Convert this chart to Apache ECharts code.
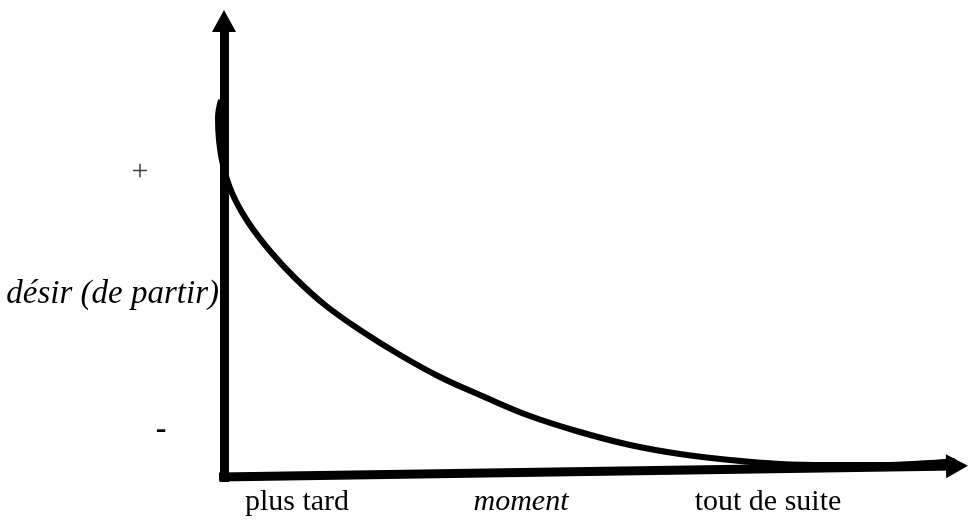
<!DOCTYPE html>
<html>
<head>
<meta charset="utf-8">
<title>désir (de partir)</title>
<script src="https://cdn.jsdelivr.net/npm/echarts@6/dist/echarts.min.js"></script>
<style>
  html, body, #main { width: 970px; height: 521px; margin: 0; overflow: hidden; background: #fff; }
</style>
</head>
<body>
<div id="main"></div>
<script>
// courbe du désir, repère en pixels de la figure (y vers le bas)
var curveX = [221, 218, 219, 223, 232, 248, 270, 295, 325, 360, 400, 440, 480, 530, 580, 630, 680, 730, 780, 830, 880, 930, 955];
var curveY = [100, 118, 140, 165, 193, 222, 251, 278, 305, 330, 355, 377, 395, 416, 432, 445, 454, 460, 464, 465, 465, 463, 461];
// axes (début, fin sous la pointe de la flèche)
var axeY = [[224, 482], [224, 21]];
var axeX = [[219, 477], [957, 466]];
var tickLabels = ['plus tard', 'moment', 'tout de suite'];
var yLabels = ['+', 'désir (de partir)', '-'];

var chart = echarts.init(document.getElementById('main'), null, { renderer: 'canvas' });
var serif = 'Liberation Serif';

function label(txt, x, y, size, italic, color, align, weight) {
  return {
    type: 'text', x: x, y: y, z: 10,
    style: {
      text: txt, fontSize: size, fontFamily: serif,
      fontStyle: italic ? 'italic' : 'normal', fontWeight: weight || 'normal',
      fill: color || '#000', align: align || 'left', verticalAlign: 'middle'
    }
  };
}

var option = {
  animation: false,
  grid: { left: 0, right: 0, top: 0, bottom: 0 },
  xAxis: { type: 'value', min: 0, max: 970, show: false },
  yAxis: { type: 'value', min: 0, max: 521, inverse: true, show: false },
  series: [
    {
      type: 'line',
      smooth: 0.4,
      symbol: 'none',
      silent: true,
      lineStyle: { color: '#000', width: 6 },
      data: curveX.map(function (x, i) { return [x, curveY[i]]; }),
      markLine: {
        silent: true,
        symbol: ['none', 'triangle'],
        symbolSize: [24, 22],
        label: { show: false },
        lineStyle: { color: '#000', width: 9, type: 'solid' },
        itemStyle: { color: '#000' },
        data: [
          [{ coord: axeY[0] }, { coord: axeY[1] }],
          [{ coord: axeX[0] }, { coord: axeX[1] }]
        ]
      }
    }
  ],
  graphic: [
    label(yLabels[0], 140, 172, 30, false, '#404040', 'center'),
    label(yLabels[1], 219, 294, 33, true, '#000', 'right'),
    label(yLabels[2], 161, 430, 32, false, '#000', 'center', 'bold'),
    label(tickLabels[0], 297, 502, 30, false, '#000', 'center'),
    label(tickLabels[1], 521, 502, 30, true, '#000', 'center'),
    label(tickLabels[2], 768, 502, 30, false, '#000', 'center')
  ]
};
chart.setOption(option);
</script>
</body>
</html>
